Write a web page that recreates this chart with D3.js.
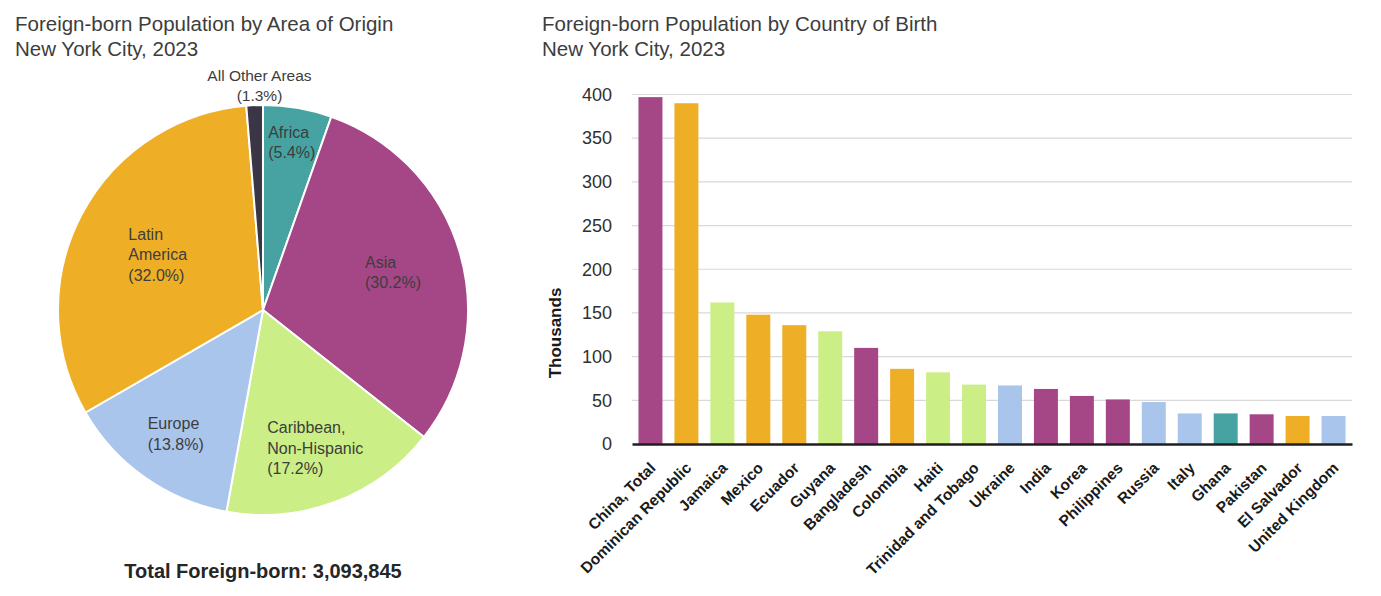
<!DOCTYPE html>
<html>
<head>
<meta charset="utf-8">
<script src="https://cdn.jsdelivr.net/npm/d3@7"></script>
<style>
  body { margin: 0; background: #fff; }
  svg { display: block; font-family: "Liberation Sans", Arial, sans-serif; }
</style>
</head>
<body>
<svg id="chart" width="1381" height="596"></svg>
<script>
// pie data: area of origin, share of foreign-born (%)
const areaNames = ['Africa', 'Asia', 'Caribbean, Non-Hispanic', 'Europe', 'Latin America', 'All Other Areas'];
const areaShares = [5.4, 30.2, 17.2, 13.8, 32.0, 1.3];
const totalForeignBorn = 3093845;

// bar data: country of birth, thousands
const countries = ['China, Total', 'Dominican Republic', 'Jamaica', 'Mexico', 'Ecuador', 'Guyana',
  'Bangladesh', 'Colombia', 'Haiti', 'Trinidad and Tobago', 'Ukraine', 'India', 'Korea',
  'Philippines', 'Russia', 'Italy', 'Ghana', 'Pakistan', 'El Salvador', 'United Kingdom'];
const countryValues = [397, 390, 162, 148, 136, 129, 110, 86, 82, 68, 67, 63, 55, 51, 48, 35, 35, 34, 32, 32];
const countryArea = ['Asia', 'Latin America', 'Caribbean, Non-Hispanic', 'Latin America', 'Latin America',
  'Caribbean, Non-Hispanic', 'Asia', 'Latin America', 'Caribbean, Non-Hispanic', 'Caribbean, Non-Hispanic',
  'Europe', 'Asia', 'Asia', 'Asia', 'Europe', 'Europe', 'Africa', 'Asia', 'Latin America', 'Europe'];
const yTicks = [0, 50, 100, 150, 200, 250, 300, 350, 400];

const areaColor = d3.scaleOrdinal()
  .domain(areaNames)
  .range(['#46a3a1', '#a54686', '#cbee87', '#aac5eb', '#eeae26', '#3b3645']);

const svg = d3.select('#chart');
const textCol = '#3d3d3d';

// ---------- titles ----------
function title(x, lines) {
  const t = svg.append('text').attr('x', x).attr('fill', textCol).style('font-size', '20.5px');
  lines.forEach((s, i) => t.append('tspan').attr('x', x).attr('y', 31 + i * 25).text(s));
}
title(15, ['Foreign-born Population by Area of Origin', 'New York City, 2023']);
title(542, ['Foreign-born Population by Country of Birth', 'New York City, 2023']);

// ---------- pie ----------
const cx = 263, cy = 310, r = 205;
const pieData = areaNames.map((name, i) => ({ name, share: areaShares[i] }));
const arcs = d3.pie().sort(null).value(d => d.share)(pieData);
const arc = d3.arc().innerRadius(0).outerRadius(r);

const pieG = svg.append('g').attr('transform', `translate(${cx},${cy})`);
pieG.selectAll('path')
  .data(arcs)
  .enter().append('path')
  .attr('d', arc)
  .attr('fill', d => areaColor(d.data.name))
  .attr('stroke', '#fff')
  .attr('stroke-width', 2);

// label placement (fraction of radius), roughly where excel put them
const labelRadius = { 'Africa': 0.83, 'Asia': 0.66, 'Caribbean, Non-Hispanic': 0.72,
  'Europe': 0.74, 'Latin America': 0.58 };
const labelLines = { 'Caribbean, Non-Hispanic': ['Caribbean,', 'Non-Hispanic'], 'Latin America': ['Latin', 'America'] };
const lh = 20.5;

arcs.forEach(d => {
  const name = d.data.name;
  const lines = (labelLines[name] || [name]).concat([`(${d.data.share.toFixed(1)}%)`]);
  const g = pieG.append('g');
  const t = g.append('text').attr('fill', textCol).style('font-size', '16px');
  lines.forEach((s, i) => t.append('tspan').attr('dy', i ? lh : 0).text(s));
  if (labelRadius[name]) {
    const lr = r * labelRadius[name];
    const [px, py] = d3.arc().innerRadius(lr).outerRadius(lr).centroid(d);
    const w = d3.max(t.selectAll('tspan').nodes(), n => n.getComputedTextLength());
    const x0 = px - w / 2;
    t.selectAll('tspan').attr('x', x0);
    t.attr('y', py - (lines.length - 1) * lh / 2 + 5.5);
  } else {
    // small slice: label sits outside above the pie
    const lr = r + 4;
    const [px, py] = d3.arc().innerRadius(lr).outerRadius(lr).centroid(d);
    t.attr('text-anchor', 'middle').style('font-size', '15.5px');
    t.selectAll('tspan').attr('x', px + 5);
    t.attr('y', py - (lines.length - 1) * lh);
  }
});

svg.append('text')
  .attr('x', cx).attr('y', 578)
  .attr('text-anchor', 'middle')
  .attr('fill', '#262626')
  .style('font-size', '20px').style('font-weight', 'bold')
  .text('Total Foreign-born: ' + d3.format(',')(totalForeignBorn));

// ---------- bars ----------
const plotL = 632, plotR = 1352, plotT = 94.5, plotB = 444;
const x = d3.scaleBand().domain(countries).range([plotL, plotR]).paddingInner(0.333).paddingOuter(0.18);
const y = d3.scaleLinear().domain([0, 400]).range([plotB, plotT]);

const grid = svg.append('g');
grid.selectAll('line')
  .data(yTicks.slice(1))
  .enter().append('line')
  .attr('x1', plotL).attr('x2', plotR)
  .attr('y1', d => y(d)).attr('y2', d => y(d))
  .attr('stroke', '#d9d9d9').attr('stroke-width', 1.2);

const yAxis = svg.append('g')
  .attr('transform', `translate(${plotL},0)`)
  .call(d3.axisLeft(y).tickValues(yTicks).tickSize(0).tickPadding(20));
yAxis.select('.domain').remove();
yAxis.selectAll('text')
  .attr('fill', '#303030')
  .style('font-size', '18px')
  .style('font-family', '"Liberation Sans", Arial, sans-serif');

svg.append('g').selectAll('rect')
  .data(countries)
  .enter().append('rect')
  .attr('x', d => x(d))
  .attr('width', x.bandwidth())
  .attr('y', (d, i) => y(countryValues[i]))
  .attr('height', (d, i) => plotB - y(countryValues[i]))
  .attr('fill', (d, i) => areaColor(countryArea[i]));

const xAxis = svg.append('g')
  .attr('transform', `translate(0,${plotB})`)
  .call(d3.axisBottom(x).tickSize(0).tickPadding(0));
xAxis.select('.domain').attr('stroke', '#1f1f1f').attr('stroke-width', 2.5);
xAxis.selectAll('.tick text')
  .attr('text-anchor', 'end')
  .attr('x', 0).attr('y', 0).attr('dy', 0)
  .attr('transform', 'translate(6,25) rotate(-45)')
  .attr('fill', '#1a1a1a')
  .style('font-size', '15.5px')
  .style('font-weight', 'bold')
  .style('font-family', '"Liberation Sans", Arial, sans-serif');

svg.append('text')
  .attr('transform', `translate(561,333) rotate(-90)`)
  .attr('text-anchor', 'middle')
  .attr('fill', '#1a1a1a')
  .style('font-size', '17px').style('font-weight', 'bold')
  .text('Thousands');
</script>
</body>
</html>
